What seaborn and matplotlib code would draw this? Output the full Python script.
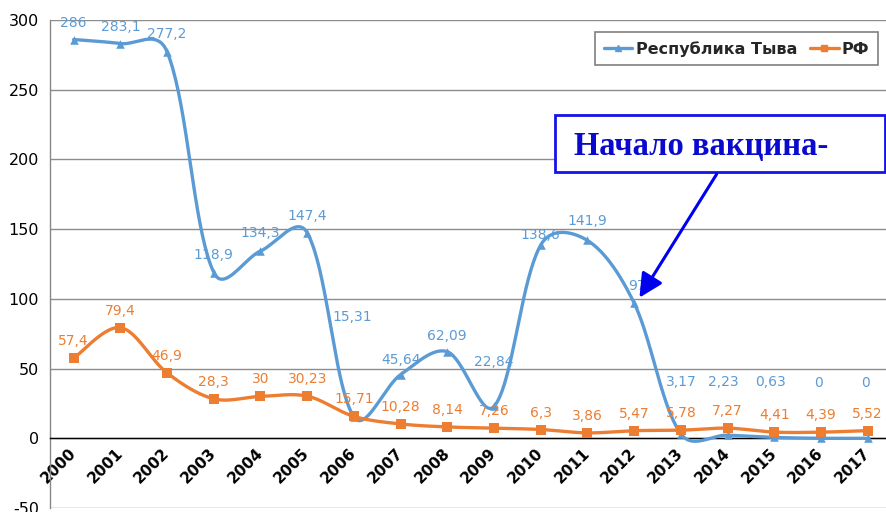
import numpy as np
import pandas as pd
import matplotlib
matplotlib.use("Agg")
import matplotlib.pyplot as plt
import seaborn as sns
from matplotlib.lines import Line2D
from matplotlib.patches import FancyArrowPatch, Rectangle, ArrowStyle

# ---- data ----
years = [str(y) for y in range(2000, 2018)]
tyva = [286, 283.1, 277.2, 118.9, 134.3, 147.4, 15.31, 45.64, 62.09, 22.84,
        138.6, 141.9, 97, 3.17, 2.23, 0.63, 0, 0]
rf = [57.4, 79.4, 46.9, 28.3, 30, 30.23, 15.71, 10.28, 8.14, 7.26,
      6.3, 3.86, 5.47, 5.78, 7.27, 4.41, 4.39, 5.52]
series_names = ["Республика Тыва", "РФ"]
y_ticks = [-50, 0, 50, 100, 150, 200, 250, 300]
callout_text = "Начало вакцина-"

# label offsets (pixels) for the Tyva series data labels
tyva_label_dy = [17, 17, 18, 18, 18, 17, 100, 15, 16, 44,
                 10, 19, 17, 52, 53, 55, 55, 55]
tyva_label_dx = [0, 0, 0, 0, 0, 0, -2, 0, 0, 0, 0, 0, 3, 0, -4, -4, -2, -2]
rf_label_dy = 17

BLUE = "#5B9BD5"
ORANGE = "#ED7D31"

W, H = 886, 512
sns.set_theme(style="white")
plt.rcParams["font.family"] = ["DejaVu Sans"]

fig = plt.figure(figsize=(W / 100, H / 100), dpi=100)
x0, x1 = 50.3, 891
ytop, ybot = 20, 508
ax = fig.add_axes([x0 / W, 1 - ybot / H, (x1 - x0) / W, (ybot - ytop) / H])
ax.set_xlim(-0.5, len(years) - 0.5)
ax.set_ylim(-50, 300)
ax.spines["bottom"].set_position(("data", 0))

xs = np.arange(len(years))
# screen scale (px per data unit) used for the smoothed-line rendering
SX = (x1 - x0) / len(years)
SY = (ybot - ytop) / 350.0


def smooth(xv, yv, n=40):
    P = np.column_stack([np.asarray(xv, float) * SX, np.asarray(yv, float) * SY])
    m = len(P)
    out = []
    for i in range(m - 1):
        p0 = P[max(i - 1, 0)]
        p1 = P[i]
        p2 = P[i + 1]
        p3 = P[min(i + 2, m - 1)]
        r01 = np.sqrt(np.linalg.norm(p1 - p0))
        r12 = np.sqrt(np.linalg.norm(p2 - p1))
        r23 = np.sqrt(np.linalg.norm(p3 - p2))
        f1 = r12 / (r01 + r12) if i > 0 and (r01 + r12) > 0 else 0.5
        f2 = r12 / (r12 + r23) if i < m - 2 and (r12 + r23) > 0 else 0.5
        c1 = p1 + (p2 - p0) * f1 / 3.0
        c2 = p2 - (p3 - p1) * f2 / 3.0
        t = np.linspace(0, 1, n)[:, None]
        seg = ((1 - t) ** 3) * p1 + 3 * ((1 - t) ** 2) * t * c1 + 3 * (1 - t) * t ** 2 * c2 + t ** 3 * p2
        out.append(seg if i == 0 else seg[1:])
    c = np.vstack(out)
    return c[:, 0] / SX, c[:, 1] / SY


bx, by = smooth(xs, tyva)
ox, oy = smooth(xs, rf)

sns.lineplot(x=bx, y=by, sort=False, estimator=None, color=BLUE, lw=2.4, ax=ax, zorder=3)
sns.scatterplot(x=xs, y=tyva, marker="^", s=38, color=BLUE, edgecolor=BLUE, linewidth=0, ax=ax, zorder=4)
sns.lineplot(x=ox, y=oy, sort=False, estimator=None, color=ORANGE, lw=2.4, ax=ax, zorder=5)
sns.scatterplot(x=xs, y=rf, marker="s", s=48, color=ORANGE, edgecolor=ORANGE, linewidth=0, ax=ax, zorder=6)


def fmt(v):
    return f"{v:g}".replace(".", ",")


for i, v in enumerate(tyva):
    ax.annotate(fmt(v), (xs[i], v), xytext=(tyva_label_dx[i], tyva_label_dy[i]),
                textcoords="offset pixels", ha="center", va="center",
                fontsize=10, color=BLUE, zorder=7)
for i, v in enumerate(rf):
    ax.annotate(fmt(v), (xs[i], v), xytext=(0, rf_label_dy),
                textcoords="offset pixels", ha="center", va="center",
                fontsize=10, color=ORANGE, zorder=7)

ax.set_xlim(-0.5, len(years) - 0.5)
ax.set_ylim(-50, 300)
ax.set_yticks(y_ticks)
ax.set_yticklabels([str(t) for t in y_ticks], fontsize=11.5, color="black")
ax.set_xticks(xs)
ax.set_xticklabels(years, rotation=45, ha="right", va="center",
                   rotation_mode="anchor", fontsize=11, fontweight="bold", color="black")
ax.set_xticks(np.arange(-0.5, len(years), 1.0), minor=True)
ax.tick_params(axis="x", which="major", length=0, pad=9)
ax.tick_params(axis="x", which="minor", length=5, width=1, color="#444444", direction="out")
ax.tick_params(axis="y", length=5, width=1, color="#888888", direction="out", pad=3)

ax.grid(axis="y", color="#8c8c8c", lw=1)
ax.grid(axis="x", visible=False)
for s in ["top", "right"]:
    ax.spines[s].set_visible(False)
ax.spines["left"].set_color("#888888")
ax.spines["left"].set_linewidth(1)
ax.spines["bottom"].set_color("black")
ax.spines["bottom"].set_linewidth(1)
ax.spines["bottom"].set_zorder(2.5)

# legend
handles = [
    Line2D([0], [0], color=BLUE, lw=2.4, marker="^", markersize=5),
    Line2D([0], [0], color=ORANGE, lw=2.4, marker="s", markersize=5),
]
leg = fig.legend(handles, series_names, loc="upper right",
                 bbox_to_anchor=(878 / W, 1 - 32 / H), ncol=2, frameon=True,
                 fancybox=False, edgecolor="#7f7f7f", framealpha=1,
                 prop={"weight": "bold", "size": 11.5}, handlelength=1.8,
                 handletextpad=0.2, columnspacing=0.8, borderpad=0.55,
                 borderaxespad=0)
leg.get_frame().set_linewidth(1.2)

# callout
fig.patches.append(Rectangle((555 / W, 1 - 172 / H), 330 / W, 57 / H,
                             transform=fig.transFigure, facecolor="white",
                             edgecolor="#1414E6", lw=2, zorder=10))
fig.text(574 / W, 1 - 155 / H, callout_text, family="Liberation Serif",
         fontweight="bold", fontsize=23.5, color="#0A0ACF", ha="left",
         va="baseline", zorder=11)
arr = FancyArrowPatch((718 / W, 1 - 172 / H), (638 / W, 1 - 300 / H),
                      transform=fig.transFigure,
                      arrowstyle=ArrowStyle("-|>", head_length=0.9, head_width=0.45),
                      mutation_scale=16, color="#0000F0", lw=2.2, zorder=11)
fig.patches.append(arr)

fig.savefig("out.png", dpi=100)
